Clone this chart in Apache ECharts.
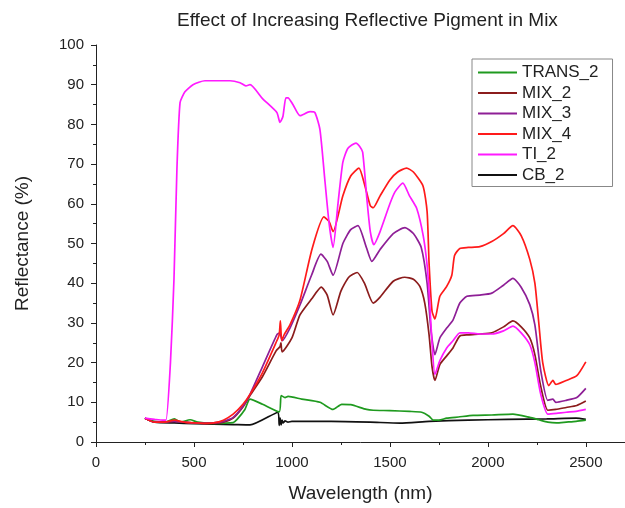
<!DOCTYPE html>
<html>
<head>
<meta charset="utf-8">
<script src="https://cdn.jsdelivr.net/npm/echarts@6/dist/echarts.min.js"></script>
<style>
html,body{margin:0;padding:0;background:#fff;}
#chart{width:625px;height:508px;}
</style>
</head>
<body>
<div id="chart"></div>
<script>
var seriesNames = ['TRANS_2','MIX_2','MIX_3','MIX_4','TI_2','CB_2'];
var xTicks = [0,500,1000,1500,2000,2500];

var trans2Wl = [250,300,350,400,430,480,520,600,700,720,760,786,850,935,945,965,980,1050,1143,1210,1254,1300,1381,1415,1500,1600,1662,1700,1721,1750,1790,1850,1925,2020,2128,2214,2260,2306,2350,2400,2450,2500];
var trans2Val = [6,5.2,5,5.8,5,5.6,5,4.7,4.9,5.7,8.2,10.8,9.5,7.6,11.7,11.2,11.5,10.8,10,8.2,9.5,9.4,8.2,8,7.9,7.7,7.5,6.5,5.5,5.5,6,6.3,6.7,6.8,7,6.2,5.6,5,4.8,5,5.2,5.5];

var mix2Wl = [250,300,350,400,450,500,550,600,650,700,750,786,850,920,939,944,950,1000,1041,1100,1150,1180,1210,1250,1290,1333,1370,1415,1450,1517,1576,1620,1653,1678,1700,1715,1730,1755,1790,1822,1857,1900,1959,2020,2080,2128,2170,2214,2240,2270,2306,2347,2400,2454,2500];
var mix2Val = [6,5,5,5.2,5,4.8,4.7,4.7,5,6,8.8,11.7,16.5,23,24,25,22.7,26.2,32,36,39,37,32,38,41.5,42.7,40,35,36.5,40.5,41.5,41,39.2,35,27,19,15.5,19.5,21.7,23.7,26.7,27,27.2,27.5,29,30.5,29,26.2,22,14,8,8.2,8.7,9.2,10.3];

var mix3Wl = [250,300,350,400,450,500,550,600,650,700,750,786,850,923,939,950,990,1041,1100,1148,1180,1210,1260,1300,1337,1380,1408,1450,1517,1577,1620,1660,1690,1710,1730,1755,1790,1822,1857,1893,1959,2020,2080,2128,2170,2214,2240,2270,2306,2332,2347,2400,2454,2500];
var mix3Val = [6,5,5,5.2,5,4.8,4.7,4.8,5.2,6.2,9,12,19,27,27.5,25.5,28.7,34.5,42,47.3,45.5,42,50,53.5,54.5,49,45.5,48.5,52.5,54,52.5,49,40,28,22,26.2,28.7,30.7,35,36.7,37,37.5,39.5,41.2,39,34.6,29.5,18,10.5,10.8,10,10.5,11.2,13.5];

var mix4Wl = [250,300,350,400,450,500,550,600,650,700,750,786,850,923,935,941,948,960,990,1041,1102,1163,1190,1210,1260,1300,1342,1370,1400,1415,1450,1500,1540,1585,1620,1669,1690,1700,1715,1730,1755,1790,1816,1830,1857,1900,1959,2020,2080,2128,2170,2214,2240,2260,2280,2311,2332,2347,2400,2454,2500];
var mix4Val = [6,5,5,5.5,5,4.8,4.7,4.8,5.5,7,9.5,12,17.5,25.5,27,30.5,25.5,27,29.5,35.7,48.5,56.7,55.5,53,62,67,69,65,59.5,59,62,66,68,69,68,64.5,58,45,33,31,36.7,39.2,42,47,48.75,49,49.2,50.5,52.5,54.5,52,46,40,30,20,14.2,15.5,14.5,15.5,16.7,20.2];

var ti2Wl = [250,300,340,357,380,398,413,429,454,495,556,684,735,765,786,850,923,939,954,969,980,1005,1041,1092,1117,1143,1168,1190,1210,1235,1260,1286,1327,1345,1361,1383,1400,1418,1450,1500,1526,1566,1600,1637,1670,1689,1700,1715,1730,1755,1790,1822,1857,1900,1959,2020,2080,2128,2170,2214,2240,2270,2306,2350,2400,2450,2500];
var ti2Val = [6,5.7,5.5,5.5,20,41,68.7,85.5,88.2,90,91,91,90.5,89.7,90,86.5,83,80.5,82,86.7,86.7,85,82.2,83.2,83,78.7,66,55,49,60,70.5,74,75.3,74.5,73,61,53,49.7,53,60,63,65.2,62,58.8,52,45,38,25,17,20.5,23.7,25.5,27.5,27.5,27.2,27.2,28,29.2,27.5,24.5,20,12,7,7.2,7.5,7.7,8.2];

var cb2Wl = [250,300,400,500,600,700,786,929,935,940,945,950,955,965,980,1000,1200,1400,1551,1700,1900,2100,2300,2450,2500];
var cb2Val = [6,5,4.8,4.6,4.5,4.4,4.3,7.5,4.2,6,4.3,5.5,4.8,5.3,5,5.2,5.2,5,4.75,5.2,5.5,5.7,5.8,6,5.7];

var colors = ['#1f9a1f','#8b1c1c','#8e1f96','#ff1a1a','#ff1aff','#111111'];

function zip(xs, ys){ var out=[]; for(var i=0;i<xs.length;i++){ out.push([xs[i], ys[i]]); } return out; }
var allData = [zip(trans2Wl,trans2Val), zip(mix2Wl,mix2Val), zip(mix3Wl,mix3Val), zip(mix4Wl,mix4Val), zip(ti2Wl,ti2Val), zip(cb2Wl,cb2Val)];

var font = 'Liberation Sans, Arial, sans-serif';
var chart = echarts.init(document.getElementById('chart'), null, {renderer:'canvas'});
var series = seriesNames.map(function(n,i){
  return {
    name: n, type: 'line', data: allData[i], showSymbol: false, smooth: 0.2,
    lineStyle: {width: 1.7, color: colors[i]}, itemStyle: {color: colors[i]},
    z: [2,3,4,5,6,1][i], animation: false
  };
});
chart.setOption({
  animation: false,
  title: {text: 'Effect of Increasing Reflective Pigment in Mix', left: 172, top: 6,
    textStyle: {fontFamily: font, fontSize: 19, fontWeight: 'normal', color: '#222'}},
  grid: {left: 96, right: 0, top: 45, bottom: 63},
  legend: {
    orient: 'vertical', left: 472, top: 59, icon: 'rect', itemWidth: 39, itemHeight: 2,
    itemGap: 3.5, padding: [5, 14, 3, 6], borderColor: '#888', borderWidth: 1,
    textStyle: {fontFamily: font, fontSize: 17, color: '#222', lineHeight: 17},
    data: seriesNames
  },
  xAxis: {
    type: 'value', min: 0, max: 2700, interval: 500,
    name: 'Wavelength (nm)', nameLocation: 'middle', nameGap: 42,
    nameTextStyle: {fontFamily: font, fontSize: 19, color: '#222'},
    axisLine: {lineStyle: {color: '#222', width: 1}},
    axisTick: {length: 5, lineStyle: {color: '#222'}},
    minorTick: {show: true, splitNumber: 2, length: 3, lineStyle: {color: '#222'}},
    axisLabel: {fontFamily: font, fontSize: 15, color: '#222', margin: 13, showMaxLabel: false,
      formatter: function(v){ return xTicks.indexOf(v) >= 0 ? String(v) : ''; }},
    splitLine: {show: false}
  },
  yAxis: {
    type: 'value', min: 0, max: 100, interval: 10,
    name: 'Reflectance (%)', nameLocation: 'middle', nameGap: 64,
    nameTextStyle: {fontFamily: font, fontSize: 19, color: '#222'},
    axisLine: {show: true, lineStyle: {color: '#222', width: 1}},
    axisTick: {show: true, length: 5, lineStyle: {color: '#222'}},
    minorTick: {show: true, splitNumber: 2, length: 3, lineStyle: {color: '#222'}},
    axisLabel: {fontFamily: font, fontSize: 15, color: '#222', margin: 12},
    splitLine: {show: false}
  },
  series: series
});
</script>
</body>
</html>
